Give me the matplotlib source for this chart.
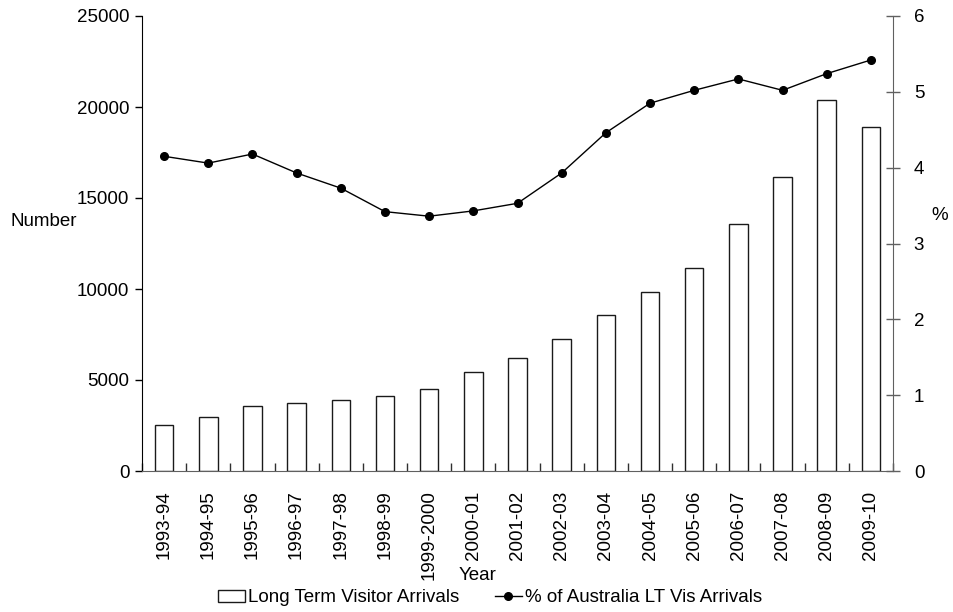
import matplotlib
matplotlib.use("Agg")
import matplotlib.pyplot as plt
import numpy as np
from matplotlib.lines import Line2D
from matplotlib.patches import Patch

plt.rcParams["font.family"] = ["Liberation Sans", "DejaVu Sans"]
plt.rcParams["font.size"] = 13.5

years = ["1993-94", "1994-95", "1995-96", "1996-97", "1997-98", "1998-99",
         "1999-2000", "2000-01", "2001-02", "2002-03", "2003-04", "2004-05",
         "2005-06", "2006-07", "2007-08", "2008-09", "2009-10"]
arrivals = [2550, 2950, 3560, 3720, 3900, 4100, 4490, 5440, 6210, 7270,
            8550, 9820, 11150, 13590, 16140, 20370, 18900]
pct_aus = [4.15, 4.06, 4.18, 3.93, 3.73, 3.42, 3.36, 3.43, 3.53, 3.93,
           4.46, 4.85, 5.02, 5.17, 5.02, 5.24, 5.42]

fig = plt.figure(figsize=(9.54, 6.12), dpi=100)
ax = fig.add_axes([142 / 954, 1 - 471 / 612, (893 - 142) / 954, (471 - 16) / 612])
x = np.arange(len(years))

ax.bar(x, arrivals, width=0.42, color="white", edgecolor="#1a1a1a", linewidth=1, zorder=2)
ax.set_xlim(-0.5, len(years) - 0.5)
ax.set_ylim(0, 25000)
ax.set_yticks(range(0, 25001, 5000))
ax.tick_params(axis="y", direction="out", length=5, width=1, colors="black", pad=4)

ax.set_xticks(x)
ax.set_xticklabels(years, rotation=90)
ax.set_xticks(np.arange(-0.5, len(years), 1.0), minor=True)
ax.tick_params(axis="x", which="major", length=0, pad=14)
ax.tick_params(axis="x", which="minor", direction="in", length=6, width=1, color="#303030")

ax.spines["top"].set_visible(False)
ax.spines["bottom"].set_color("#606060")
ax.spines["left"].set_color("black")
ax.spines["right"].set_visible(False)

ax2 = ax.twinx()
ax2.plot(x, pct_aus, color="black", linewidth=1, marker="o", markersize=5.5, zorder=3)
ax2.set_ylim(0, 6)
ax2.set_yticks(range(0, 7))
ax2.tick_params(axis="y", direction="inout", length=10, width=1, color="#606060", pad=10)
ax2.spines["top"].set_visible(False)
ax2.spines["left"].set_visible(False)
ax2.spines["bottom"].set_visible(False)
ax2.spines["right"].set_color("#606060")

fig.text(10 / 954, 1 - 221 / 612, "Number", ha="left", va="center")
fig.text(940 / 954, 1 - 215 / 612, "%", ha="center", va="center")
fig.text(478 / 954, 1 - 576 / 612, "Year", ha="center", va="center")

handles = [Patch(facecolor="white", edgecolor="#1a1a1a", linewidth=1),
           Line2D([], [], color="black", linewidth=1, marker="o", markersize=5.5)]
labels = ["Long Term Visitor Arrivals", "% of Australia LT Vis Arrivals"]
fig.legend(handles, labels, loc="center", ncol=2, frameon=False,
           bbox_to_anchor=(490 / 954, 1 - 598 / 612), handlelength=1.45,
           handleheight=0.6, handletextpad=0.15, columnspacing=1.9,
           borderaxespad=0)

fig.savefig("out.png", dpi=100)
